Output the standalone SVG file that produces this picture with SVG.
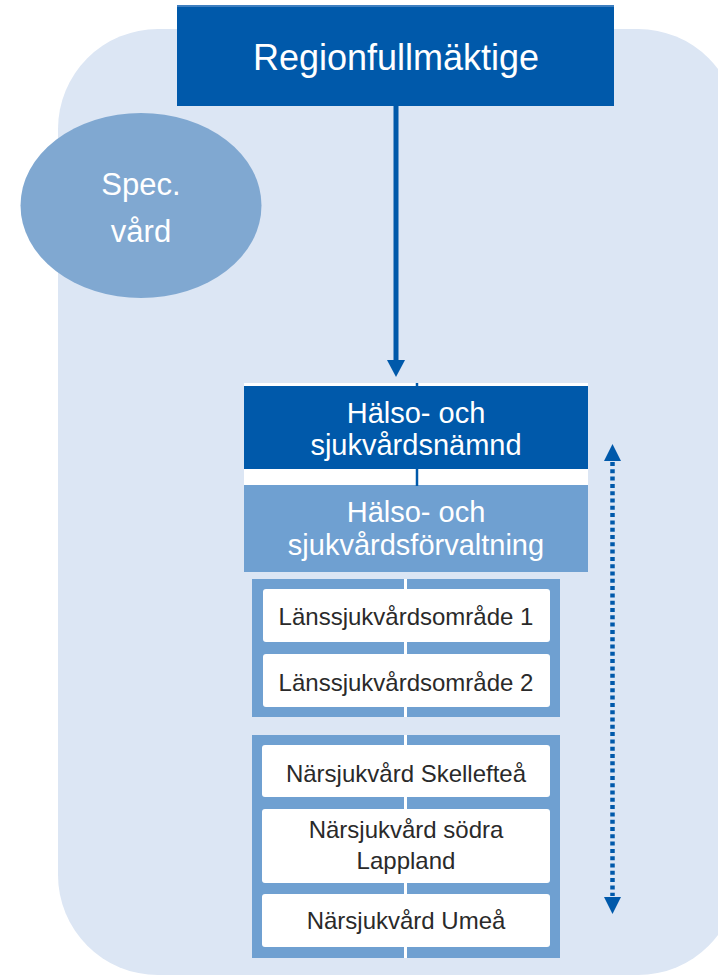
<svg xmlns="http://www.w3.org/2000/svg" width="718" height="975" viewBox="0 0 718 975">
<style>
.dark{fill:#0059AA}
.mid{fill:#6FA0D1}
.wbox{fill:#FFFFFF}
.tw{fill:#FFFFFF;font-family:"Liberation Sans",Arial,sans-serif;text-anchor:middle}
.td{fill:#2A2A2A;font-family:"Liberation Sans",Arial,sans-serif;text-anchor:middle;font-size:24px}
.sep{stroke:#FFFFFF;stroke-width:3}
.conn{stroke:#0059AA}
</style>
<rect id="background" x="58" y="29" width="680" height="946" rx="100" ry="100" fill="#DCE6F4"/>
<g id="regionfullmaktige">
<rect class="dark" x="177" y="5" width="437" height="101"/>
<rect x="177" y="5" width="437" height="2" fill="#3F7FC0"/>
<text class="tw" x="396" y="70" font-size="36">Regionfullmäktige</text>
</g>
<g id="spec-vard">
<ellipse cx="141" cy="205.5" rx="120.5" ry="92.5" fill="#80A8D1"/>
<text class="tw" x="141" y="195" font-size="31">Spec.</text>
<text class="tw" x="141" y="242" font-size="31">vård</text>
</g>
<rect x="244" y="383" width="344" height="104" fill="#FFFFFF"/>
<g id="hs-namnd">
<rect class="dark" x="244" y="386" width="344" height="83"/>
<text class="tw" x="416" y="423" font-size="29">Hälso- och</text>
<text class="tw" x="416" y="455" font-size="29">sjukvårdsnämnd</text>
</g>
<g id="hs-forvaltning">
<rect class="mid" x="244" y="485" width="344" height="87"/>
<text class="tw" x="416" y="522" font-size="29">Hälso- och</text>
<text class="tw" x="416" y="555" font-size="29">sjukvårdsförvaltning</text>
</g>
<g id="lansomraden">
<rect class="mid" x="252" y="579" width="308" height="138"/>
<line class="sep" x1="405.5" y1="579" x2="405.5" y2="717"/>
</g>
<g id="lso1">
<rect class="wbox" x="263" y="589" width="287" height="53" rx="3"/>
<text class="td" x="406" y="625">Länssjukvårdsområde 1</text>
</g>
<g id="lso2">
<rect class="wbox" x="263" y="654" width="287" height="53" rx="3"/>
<text class="td" x="406" y="691">Länssjukvårdsområde 2</text>
</g>
<g id="narsjukvard">
<rect class="mid" x="252" y="735" width="308" height="223"/>
<line class="sep" x1="405.5" y1="735" x2="405.5" y2="958"/>
</g>
<g id="nsv-skelleftea">
<rect class="wbox" x="262" y="745" width="288" height="52" rx="3"/>
<text class="td" x="406" y="782">Närsjukvård Skellefteå</text>
</g>
<g id="nsv-sodra-lappland">
<rect class="wbox" x="262" y="809" width="288" height="74" rx="3"/>
<text class="td" x="406" y="838">Närsjukvård södra</text>
<text class="td" x="406" y="869">Lappland</text>
</g>
<g id="nsv-umea">
<rect class="wbox" x="262" y="894" width="288" height="53" rx="3"/>
<text class="td" x="406" y="929">Närsjukvård Umeå</text>
</g>
<g id="connectors">
<line class="conn" x1="396" y1="106" x2="396" y2="362" stroke-width="5"/>
<polygon points="387,360 405,360 396,377" fill="#0059AA"/>
<line class="conn" x1="417" y1="383" x2="417" y2="387" stroke-width="2.5"/>
<line class="conn" x1="417" y1="468" x2="417" y2="486" stroke-width="2.5"/>
<line class="conn" x1="612.5" y1="462" x2="612.5" y2="896" stroke-width="4.5" stroke-dasharray="4 3.3"/>
<polygon points="604,461 621,461 612.5,444" fill="#0059AA"/>
<polygon points="604,897 621,897 612.5,914" fill="#0059AA"/>
</g>
</svg>
